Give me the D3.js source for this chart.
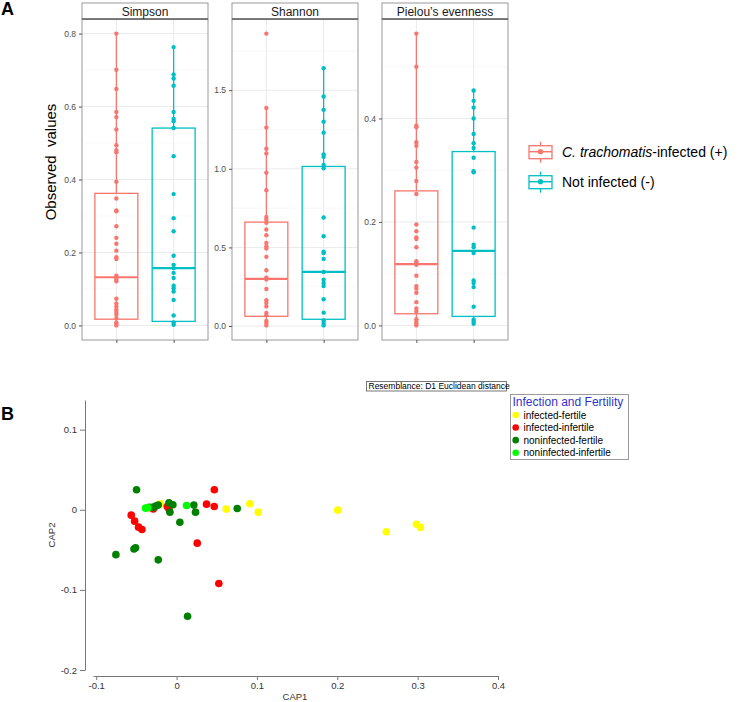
<!DOCTYPE html>
<html><head><meta charset="utf-8">
<script src="https://cdn.jsdelivr.net/npm/d3@7"></script>
<style>body{margin:0;background:#fff} svg{display:block;font-family:"Liberation Sans",Arial,sans-serif}</style>
</head><body><svg id="c" width="740" height="702"></svg>
<script>
// ---------- Panel A data ----------
const metrics = ["Simpson", "Shannon", "Pielou\u2019s evenness"];
const groupsA = ["infected", "notinfected"];
const colorsA = ["#F8766D", "#00BFC4"];

const simpsonInfected = [0.80,0.701,0.648,0.585,0.571,0.537,0.494,0.48,0.475,0.394,0.348,0.315,0.313,0.272,0.24,0.224,0.205,0.187,0.182,0.136,0.132,0.127,0.121,0.073,0.060,0.052,0.043,0.037,0.030,0.020,0.008,0.004,0.0];
const simpsonNotInfected = [0.763,0.688,0.677,0.657,0.585,0.566,0.56,0.541,0.464,0.360,0.294,0.258,0.191,0.166,0.157,0.144,0.130,0.109,0.102,0.093,0.070,0.027,0.008,0.002];
const shannonInfected = [1.86,1.387,1.262,1.128,1.098,0.975,0.864,0.694,0.678,0.657,0.614,0.578,0.529,0.508,0.493,0.440,0.355,0.308,0.296,0.236,0.164,0.147,0.125,0.083,0.068,0.032,0.019,0.004];
const shannonNotInfected = [1.64,1.46,1.375,1.30,1.23,1.092,1.077,1.024,1.003,0.69,0.571,0.473,0.465,0.427,0.344,0.295,0.274,0.255,0.170,0.085,0.036,0.019,0.004];
const pielouInfected = [0.564,0.50,0.386,0.383,0.354,0.347,0.316,0.305,0.279,0.254,0.195,0.182,0.170,0.167,0.151,0.124,0.120,0.117,0.096,0.076,0.071,0.063,0.045,0.033,0.027,0.012,0.007,0.003,0.0];
const pielouNotInfected = [0.454,0.434,0.421,0.40,0.370,0.352,0.343,0.324,0.298,0.296,0.189,0.156,0.151,0.140,0.087,0.082,0.074,0.036,0.011,0.007,0.003];

// box stats [lowerWhisker, q1, median, q3, upperWhisker]
const simpsonBoxes = [[0.0,0.017,0.132,0.362,0.80],[0.002,0.011,0.157,0.541,0.763]];
const shannonBoxes = [[0.0,0.062,0.300,0.661,1.387],[0.004,0.043,0.344,1.015,1.64]];
const pielouBoxes = [[0.0,0.0225,0.1185,0.260,0.564],[0.003,0.0174,0.144,0.336,0.454]];

const simpsonTicks = [0,0.2,0.4,0.6,0.8];
const shannonTicks = [0,0.5,1.0,1.5];
const pielouTicks = [0,0.2,0.4];
const simpsonMinor = [0.1,0.3,0.5,0.7];
const shannonMinor = [0.25,0.75,1.25,1.75];
const pielouMinor = [0.1,0.3,0.5];

const legendALabels = [["C. trachomatis","-infected (+)"],["","Not infected (-)"]];

// ---------- Panel B data ----------
const groupsB = ["infected-fertile","infected-infertile","noninfected-fertile","noninfected-infertile"];
const colorsB = ["#ffff00","#ff0000","#008000","#00ff00"];
const cap1Fertile = [-0.020,0.0618,0.0912,0.1016,0.2006,0.261,0.2985,0.3035];
const cap2Fertile = [0.0075,0.0008,0.0075,-0.003,-0.0005,-0.0275,-0.018,-0.022];
const cap1Infertile = [0.047,0.0526,0.0257,-0.0564,-0.0522,-0.0473,-0.0431,0.0373,0.0469,-0.0116,-0.0095,-0.029];
const cap2Infertile = [0.025,-0.092,-0.0417,-0.0067,-0.0142,-0.0217,-0.0246,0.007,0.004,0.004,0.001,0.001];
const cap1NonFertile = [-0.0498,-0.0755,-0.053,-0.051,-0.0228,0.0137,0.0041,0.0755,0.0215,0.0236,-0.0083,-0.0095,-0.0046,-0.030,-0.026,-0.0228,-0.034];
const cap2NonFertile = [0.025,-0.056,-0.049,-0.0475,-0.0625,-0.133,-0.0155,0.0016,0.0058,-0.003,-0.003,0.0087,0.0062,0.003,0.0045,0.006,0.003];
const cap1NonInfertile = [-0.0386,-0.0357,0.0124];
const cap2NonInfertile = [0.002,0.0025,0.0054];
const xTicksB = [-0.1,0,0.1,0.2,0.3,0.4];
const yTicksB = [-0.2,-0.1,0,0.1];

// ---------- drawing ----------
const svg = d3.select("#c");
const font = '"Liberation Sans",Arial,sans-serif';

svg.append("text").attr("x",1).attr("y",15).attr("font-size",18).attr("font-weight","bold").text("A");
svg.append("text").attr("x",1).attr("y",420).attr("font-size",18).attr("font-weight","bold").text("B");

const panelLefts = [82,232,382], panelW = 126, pTop = 19, pBottom = 340, stripTop = 3;
const dataA = [[simpsonInfected,simpsonNotInfected],[shannonInfected,shannonNotInfected],[pielouInfected,pielouNotInfected]];
const boxesA = [simpsonBoxes,shannonBoxes,pielouBoxes];
const ticksA = [simpsonTicks,shannonTicks,pielouTicks];
const minorA = [simpsonMinor,shannonMinor,pielouMinor];

metrics.forEach((m,i)=>{
  const x0 = panelLefts[i];
  const all = dataA[i][0].concat(dataA[i][1]);
  const ext = d3.extent(all), pad = (ext[1]-ext[0])*0.05;
  const y = d3.scaleLinear().domain([ext[0]-pad, ext[1]+pad]).range([pBottom,pTop]);
  const x = d3.scalePoint().domain(groupsA).range([x0,x0+panelW]).padding(0.6);
  const bw = x.step()*0.75;
  const g = svg.append("g");
  g.selectAll(".mi").data(minorA[i].filter(v=>v<y.domain()[1])).enter().append("line")
    .attr("x1",x0).attr("x2",x0+panelW).attr("y1",d=>y(d)).attr("y2",d=>y(d)).attr("stroke","#f3f3f3").attr("stroke-width",0.6);
  g.selectAll(".ma").data(ticksA[i]).enter().append("line")
    .attr("x1",x0).attr("x2",x0+panelW).attr("y1",d=>y(d)).attr("y2",d=>y(d)).attr("stroke","#ebebeb").attr("stroke-width",1);
  g.selectAll(".vx").data(groupsA).enter().append("line")
    .attr("x1",d=>x(d)).attr("x2",d=>x(d)).attr("y1",pTop).attr("y2",pBottom).attr("stroke","#ebebeb").attr("stroke-width",1);
  groupsA.forEach((grp,k)=>{
    const b = boxesA[i][k], cx = x(grp), col = colorsA[k];
    g.append("line").attr("x1",cx).attr("x2",cx).attr("y1",y(b[4])).attr("y2",y(b[3])).attr("stroke",col).attr("stroke-width",1.3);
    g.append("line").attr("x1",cx).attr("x2",cx).attr("y1",y(b[1])).attr("y2",y(b[0])).attr("stroke",col).attr("stroke-width",1.3);
    g.append("rect").attr("x",cx-bw/2).attr("y",y(b[3])).attr("width",bw).attr("height",y(b[1])-y(b[3]))
      .attr("fill","none").attr("stroke",col).attr("stroke-width",1.3);
    g.append("line").attr("x1",cx-bw/2).attr("x2",cx+bw/2).attr("y1",y(b[2])).attr("y2",y(b[2])).attr("stroke",col).attr("stroke-width",2.2);
    g.selectAll(null).data(dataA[i][k]).enter().append("circle")
      .attr("cx",cx).attr("cy",d=>y(d)).attr("r",2.2).attr("fill",col);
  });
  g.append("rect").attr("x",x0).attr("y",pTop).attr("width",panelW).attr("height",pBottom-pTop)
    .attr("fill","none").attr("stroke","#999").attr("stroke-width",1);
  g.append("rect").attr("x",x0).attr("y",stripTop).attr("width",panelW).attr("height",pTop-stripTop)
    .attr("fill","#fff").attr("stroke","#999").attr("stroke-width",1);
  g.append("line").attr("x1",x0).attr("x2",x0+panelW).attr("y1",pTop).attr("y2",pTop).attr("stroke","#333").attr("stroke-width",1);
  g.append("text").attr("x",x0+panelW/2).attr("y",pTop-3.5).attr("text-anchor","middle").attr("font-size",12).attr("fill","#1a1a1a").text(m);
  const ya = g.append("g").attr("transform",`translate(${x0},0)`)
    .call(d3.axisLeft(y).tickValues(ticksA[i]).tickSize(3).tickPadding(3).tickFormat(d3.format(".1f")));
  ya.select(".domain").remove();
  ya.selectAll("line").attr("stroke","#555");
  ya.selectAll("text").attr("font-size",8.5).attr("fill","#4d4d4d").attr("font-family",font);
  const xa = g.append("g").attr("transform",`translate(0,${pBottom})`)
    .call(d3.axisBottom(x).tickSize(3).tickFormat(""));
  xa.select(".domain").remove();
  xa.selectAll("line").attr("stroke","#555");
});

svg.append("text").attr("transform","translate(56,162) rotate(-90)").attr("text-anchor","middle")
  .style("white-space","pre").attr("font-size",15).attr("fill","#000").text("Observed  values");

// legend A
const legA = svg.append("g");
const legAy = d3.scalePoint().domain(groupsA).range([151.7,181.7]);
groupsA.forEach((grp,k)=>{
  const cy = legAy(grp), cx = 540.5, col = colorsA[k];
  legA.append("line").attr("x1",cx).attr("x2",cx).attr("y1",cy-10).attr("y2",cy+11).attr("stroke",col).attr("stroke-width",1.3);
  legA.append("rect").attr("x",cx-11.5).attr("y",cy-6).attr("width",23).attr("height",13).attr("fill","#fff").attr("stroke",col).attr("stroke-width",1.3);
  legA.append("line").attr("x1",cx-11.5).attr("x2",cx+11.5).attr("y1",cy).attr("y2",cy).attr("stroke",col).attr("stroke-width",1.5);
  legA.append("circle").attr("cx",cx).attr("cy",cy).attr("r",2.6).attr("fill",col);
  const t = legA.append("text").attr("x",562).attr("y",cy+5).attr("font-size",14).attr("fill","#000");
  if (legendALabels[k][0]) t.append("tspan").attr("font-style","italic").text(legendALabels[k][0]);
  t.append("tspan").text(legendALabels[k][1]);
});

// ---------- Panel B ----------
const xB = d3.scaleLinear().domain([-0.104,0.4]).range([93,498]);
const yB = d3.scaleLinear().domain([-0.2,0.137]).range([670,400]);
const gB = svg.append("g");
const yaB = gB.append("g").attr("transform","translate(85,0)")
  .call(d3.axisLeft(yB).tickValues(yTicksB).tickSize(5).tickSizeOuter(0).tickPadding(3)
    .tickFormat(d=>d===0?"0":d.toFixed(1)));
const xaB = gB.append("g").attr("transform","translate(0,676)")
  .call(d3.axisBottom(xB).tickValues(xTicksB).tickSize(4).tickSizeOuter(0).tickPadding(2)
    .tickFormat(d=>Math.abs(d)<1e-9?"0":d.toFixed(1)));
[yaB,xaB].forEach(a=>{
  a.selectAll("path,line").attr("stroke","#777");
  a.selectAll("text").attr("font-size",9.5).attr("fill","#333").attr("font-family",font);
});
gB.append("text").attr("x",295).attr("y",700).attr("text-anchor","middle").attr("font-size",9.5).attr("fill","#333").text("CAP1");
gB.append("text").attr("transform","translate(55,535) rotate(-90)").attr("text-anchor","middle").attr("font-size",9.5).attr("fill","#333").text("CAP2");

const ptsB = [[cap1Fertile,cap2Fertile],[cap1Infertile,cap2Infertile],[cap1NonFertile,cap2NonFertile],[cap1NonInfertile,cap2NonInfertile]];
ptsB.forEach((p,k)=>{
  gB.selectAll(null).data(p[0].map((v,j)=>[v,p[1][j]])).enter().append("circle")
    .attr("cx",d=>xB(d[0])).attr("cy",d=>yB(d[1])).attr("r",3.8).attr("fill",colorsB[k]);
});

gB.append("rect").attr("x",366.5).attr("y",381.5).attr("width",140).attr("height",9.5).attr("fill","#fff").attr("stroke","#555").attr("stroke-width",0.8);
gB.append("text").attr("x",368.5).attr("y",389.3).attr("font-size",8.5).attr("fill","#000").text("Resemblance: D1 Euclidean distance");

// legend B
const legB = svg.append("g");
legB.append("rect").attr("x",510.5).attr("y",394.5).attr("width",118).attr("height",65).attr("fill","#fff").attr("stroke","#999").attr("stroke-width",1);
legB.append("text").attr("x",512.5).attr("y",406).attr("font-size",12).attr("fill","#3333cc").text("Infection and Fertility");
const legBy = d3.scalePoint().domain(groupsB).range([415,452.7]);
groupsB.forEach((grp,k)=>{
  legB.append("circle").attr("cx",515.7).attr("cy",legBy(grp)).attr("r",3.3).attr("fill",colorsB[k]);
  legB.append("text").attr("x",523.5).attr("y",legBy(grp)+3.5).attr("font-size",10).attr("fill","#000").text(grp);
});
</script></body></html>
